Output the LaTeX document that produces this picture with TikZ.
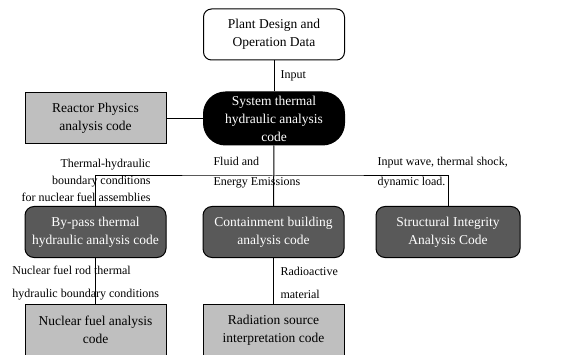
\documentclass[tikz,border=0pt]{standalone}
\usepackage{fontspec}
\setmainfont{Liberation Serif}
\usetikzlibrary{positioning}
\definecolor{box_grau_1}{HTML}{595959}
\definecolor{box_grau_5}{HTML}{BFBFBF}
\tikzset{
  codebox/.style={draw, rectangle, minimum width=141pt, minimum height=51pt, align=center, inner sep=1pt, font=\fontsize{13.5}{18}\selectfont},
  lightbox/.style={codebox, fill=box_grau_5},
  darkbox/.style={codebox, rounded corners=9pt, fill=box_grau_1, text=white},
  flowlabel/.style={inner sep=0pt, font=\fontsize{12}{19}\selectfont}
}
\begin{document}
\begin{tikzpicture}[x=1pt, y=-1pt, line width=1pt]
\useasboundingbox (0,0) rectangle (580,355);

\node[codebox, rounded corners=8pt, fill=white] (plantdata) at (274,34.5) {Plant Design and\\Operation Data};
\node[codebox, rounded corners=22pt, minimum height=53pt, fill=black, text=white] (systemcode) at (274,118.5) {System thermal\\hydraulic analysis\\code};
\node[lightbox] (reactorphysics) at (95.5,118.5) {Reactor Physics\\analysis code};

\node[darkbox] (bypasscode) at (95.5,232) {By-pass thermal\\hydraulic analysis code};
\node[darkbox] (containment) at (273.5,232) {Containment building\\analysis code};
\node[darkbox, minimum width=144pt] (structural) at (448,232) {Structural Integrity\\Analysis Code};

\node[lightbox, minimum height=52pt] (fuelcode) at (95.5,330) {Nuclear fuel analysis\\code};
\node[lightbox, minimum height=52pt] (radiationcode) at (273.5,330) {Radiation source\\interpretation code};

\coordinate (bus) at (274,176);

\draw (plantdata) -- (systemcode);
\draw (reactorphysics) -- (systemcode);
\draw (systemcode) -- (containment);
\draw (bypasscode.north) |- (bus) -| (structural.north);
\draw (bypasscode) -- (fuelcode);
\draw (containment) -- (radiationcode);

\node[flowlabel, anchor=west] at (280,76) {Input};
\node[flowlabel, anchor=east, align=right, font=\fontsize{12}{17}\selectfont] at (151,180) {Thermal-hydraulic\\boundary conditions\\for nuclear fuel assemblies};
\node[flowlabel, anchor=west, align=left, font=\fontsize{12}{20}\selectfont] at (213,173) {Fluid and\\Energy Emissions};
\node[flowlabel, anchor=west, align=left, font=\fontsize{12}{20}\selectfont] at (377,173) {Input wave, thermal shock,\\dynamic load.};
\node[flowlabel, anchor=west, align=left, font=\fontsize{12}{23}\selectfont] at (12,283) {Nuclear fuel rod thermal\\hydraulic boundary conditions};
\node[flowlabel, anchor=west, align=left, font=\fontsize{12}{23}\selectfont] at (280,283) {Radioactive\\material};
\end{tikzpicture}
\end{document}
